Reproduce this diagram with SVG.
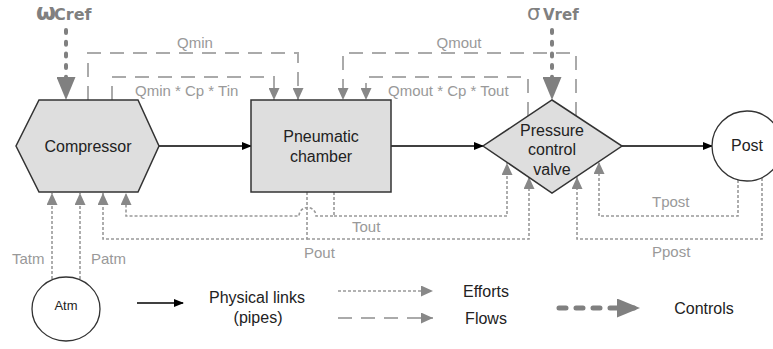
<svg xmlns="http://www.w3.org/2000/svg" width="773" height="349" viewBox="0 0 773 349">
<style>
text{font-family:"Liberation Sans",Arial,sans-serif}
.node{fill:#dedede;stroke:#333;stroke-width:1.5}
.circ{fill:#fff;stroke:#333;stroke-width:1.3}
.nt{font-size:16px;fill:#222;text-anchor:middle}
.lbl{font-size:15px;fill:#999}
.ctl{font-family:"DejaVu Sans",sans-serif;font-size:15px;font-weight:bold;fill:#808080}
.phys{fill:none;stroke:#000;stroke-width:1.3;marker-end:url(#ah)}
.eff{fill:none;stroke:#999;stroke-width:1.6;stroke-dasharray:3 2;marker-end:url(#gh)}
.flow{fill:none;stroke:#aaa;stroke-width:2;stroke-dasharray:14 9;marker-end:url(#gh)}
.ctrl{fill:none;stroke:#808080;stroke-width:4;stroke-linecap:round;stroke-dasharray:3 8.7;marker-end:url(#ch)}
.ctrlL{fill:none;stroke:#808080;stroke-width:5;stroke-linecap:round;stroke-dasharray:7 10;marker-end:url(#ch)}
.leg{font-size:16px;fill:#222;text-anchor:middle}
</style>
<defs>
<marker id="ah" markerUnits="userSpaceOnUse" markerWidth="10" markerHeight="8" refX="9" refY="4" orient="auto"><path d="M0,0 L10,4 L0,8 z" fill="#000"/></marker>
<marker id="gh" markerUnits="userSpaceOnUse" markerWidth="12" markerHeight="11" refX="12" refY="5.5" orient="auto"><path d="M0,0 L12,5.5 L0,11 z" fill="#888"/></marker>
<marker id="ch" markerUnits="userSpaceOnUse" markerWidth="23" markerHeight="19" refX="23" refY="9.5" orient="auto"><path d="M0,0 L23,9.5 L0,19 z" fill="#808080"/></marker>
</defs>
<rect width="773" height="349" fill="#fff"/>

<g id="connectors">
  <!-- physical links -->
  <path class="phys" d="M159,146 H251"/>
  <path class="phys" d="M391,146 H483"/>
  <path class="phys" d="M622,146 H712"/>
  <!-- flows -->
  <path class="flow" d="M88,100 V53 H298 V100"/>
  <path class="flow" d="M112,100 V77 H274 V100"/>
  <path class="flow" d="M576,116 V53 H343 V100"/>
  <path class="flow" d="M528,116 V77 H366 V100"/>
  <!-- efforts -->
  <path class="eff" d="M52,279 V193"/>
  <path class="eff" d="M80,279 V193"/>
  <path class="eff" d="M307,192 V239 H103 V193"/>
  <path class="eff" d="M307,239 H529 V177"/>
  <path class="eff" d="M334,192 V216 H316 A8.5,8.5 0 0 0 299,216 H126 V193"/>
  <path class="eff" d="M334,216 H507 V163"/>
  <path class="eff" d="M738,180 V216 H599 V162"/>
  <path class="eff" d="M762,178 V239 H577 V177"/>
  <!-- controls -->
  <path class="ctrl" d="M66,30 V100"/>
  <path class="ctrl" d="M552,30 V100"/>
  <!-- labels -->
  <text class="lbl" x="195" y="48" text-anchor="middle">Qmin</text>
  <text class="lbl" x="135" y="96">Qmin * Cp * Tin</text>
  <text class="lbl" x="459" y="48" text-anchor="middle">Qmout</text>
  <text class="lbl" x="388" y="96">Qmout * Cp * Tout</text>
  <text class="lbl" x="12" y="264">Tatm</text>
  <text class="lbl" x="91" y="264">Patm</text>
  <text class="lbl" x="304" y="258">Pout</text>
  <text class="lbl" x="352" y="232">Tout</text>
  <text class="lbl" x="652" y="207">Tpost</text>
  <text class="lbl" x="652" y="257">Ppost</text>
  <text class="ctl" x="36" y="20"><tspan font-size="23">ω</tspan><tspan x="54" font-size="16">Cref</tspan></text>
  <text class="ctl" x="527" y="20"><tspan font-size="21" font-weight="normal">σ</tspan><tspan x="543">Vref</tspan></text>
</g>

<g id="compressor">
  <polygon class="node" points="39,100 138,100 159,146 138,192 39,192 16,146"/>
  <text class="nt" x="88" y="152">Compressor</text>
</g>
<g id="chamber">
  <rect class="node" x="251" y="100" width="140" height="92"/>
  <text class="nt" x="321" y="142">Pneumatic</text>
  <text class="nt" x="321" y="162">chamber</text>
</g>
<g id="valve">
  <polygon class="node" points="552,100 622,146 552,193 483,146"/>
  <text class="nt" x="552" y="136">Pressure</text>
  <text class="nt" x="552" y="155">control</text>
  <text class="nt" x="552" y="175">valve</text>
</g>
<g id="post">
  <circle class="circ" cx="747" cy="146" r="35"/>
  <text class="nt" x="747" y="151" font-size="15">Post</text>
</g>
<g id="atm">
  <ellipse class="circ" cx="66" cy="309" rx="34" ry="32"/>
  <text class="nt" x="66" y="310" style="font-size:13px">Atm</text>
</g>

<g id="legend">
  <path class="phys" d="M137,303 H183"/>
  <text class="leg" x="257" y="303">Physical links</text>
  <text class="leg" x="258" y="323">(pipes)</text>
  <path class="eff" d="M338,291 H433"/>
  <text class="leg" x="486" y="297">Efforts</text>
  <path class="flow" d="M338,318 H433"/>
  <text class="leg" x="486" y="324">Flows</text>
  <path class="ctrlL" d="M559,308 H640"/>
  <text class="leg" x="704" y="314">Controls</text>
</g>
</svg>
